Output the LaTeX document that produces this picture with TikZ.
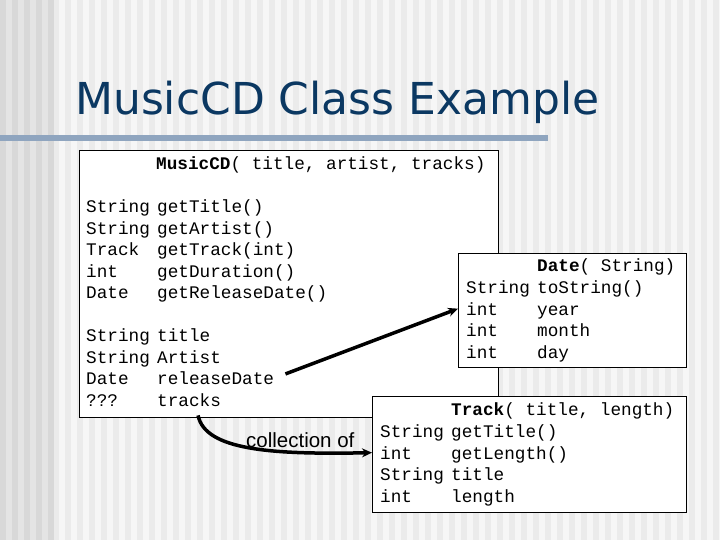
\documentclass[tikz,border=0pt]{standalone}
\usepackage{fontspec}
\setmainfont{Liberation Sans}
\setmonofont{Liberation Mono}
\newfontfamily\titlefont{DejaVu Sans}
\usetikzlibrary{positioning,calc,arrows.meta}
\usepackage{xcolor}
\definecolor{titleblue}{HTML}{0B3862}
\definecolor{barblue}{HTML}{8FA5BF}
\definecolor{stripelight}{HTML}{F6F6F6}
\definecolor{stripemid}{HTML}{EBEBEB}
\definecolor{stripedark}{HTML}{D8D8D8}
\definecolor{stripeleft}{HTML}{E4E4E4}

\tikzset{
  classbox/.style={draw=black, line width=1pt, fill=white, inner sep=0pt, anchor=north west},
  code/.style={font=\ttfamily\fontsize{17.7}{21}\selectfont, anchor=base west, inner sep=0pt},
  link/.style={line width=3.5pt, -{Stealth[length=10pt,width=9pt]}},
}

\begin{document}
\begin{tikzpicture}[x=1pt,y=-1pt]
  \useasboundingbox (0,0) rectangle (720,540);
  \fill[stripemid] (0,0) rectangle (720,540);
  \foreach \x in {59,71,...,719} \fill[stripelight] (\x,0) rectangle ++(6,540);
  \fill[stripeleft] (0,0) rectangle (53,540);
  \foreach \x in {0,12,...,48} \fill[stripedark] (\x,0) rectangle ++(6,540);

  \node[anchor=base west, inner sep=0pt, text=titleblue,
        font=\titlefont\fontsize{44}{44}\selectfont] (title) at (75,115) {MusicCD Class Example};
  \fill[barblue] (0,135) rectangle (548,141);

  \node[classbox, minimum width=419, minimum height=267] (cdbox) at (79,150) {};
  \node[code] (cdhead) at (156,169.5) {\textbf{MusicCD}( title, artist, tracks)};
  \foreach \t/\m [count=\i] in {String/getTitle(), String/getArtist(), Track/getTrack(int),
      int/getDuration(), Date/getReleaseDate()} {
    \node[code] (cdmt\i) at (86,191+21.5*\i) {\t};
    \node[code] (cdm\i) at (157,191+21.5*\i) {\m};
  }
  \foreach \t/\m [count=\i] in {String/title, String/Artist, Date/releaseDate, ???/tracks} {
    \node[code] (cdft\i) at (86,320+21.5*\i) {\t};
    \node[code] (cdf\i) at (157,320+21.5*\i) {\m};
  }

  \node[classbox, minimum width=228, minimum height=114] (datebox) at (458,253) {};
  \node[code] (datehead) at (537,271) {\textbf{Date}( String)};
  \foreach \t/\m [count=\i] in {String/toString(), int/year, int/month, int/day} {
    \node[code] (dt\i) at (466,272+21.5*\i) {\t};
    \node[code] (dm\i) at (537,272+21.5*\i) {\m};
  }

  \node[classbox, minimum width=314, minimum height=116] (trackbox) at (372,396) {};
  \node[code] (trackhead) at (451,415.5) {\textbf{Track}( title, length)};
  \foreach \t/\m [count=\i] in {String/getTitle(), int/getLength(), String/title, int/length} {
    \node[code] (tt\i) at (380,416+21.5*\i) {\t};
    \node[code] (tm\i) at (451,416+21.5*\i) {\m};
  }

  \draw[link, shorten <=12pt] (cdf3.east) -- (datebox.west |- dt2.west);
  \draw[link] ($(cdf4.south)+(9,9)$) .. controls +(7,35) and +(-100,2) .. (trackbox.west |- tt2.west);
  \node[anchor=base west, inner sep=0pt, font=\fontsize{20.5}{20.5}\selectfont] (coll) at (246,447) {collection of};
\end{tikzpicture}
\end{document}
